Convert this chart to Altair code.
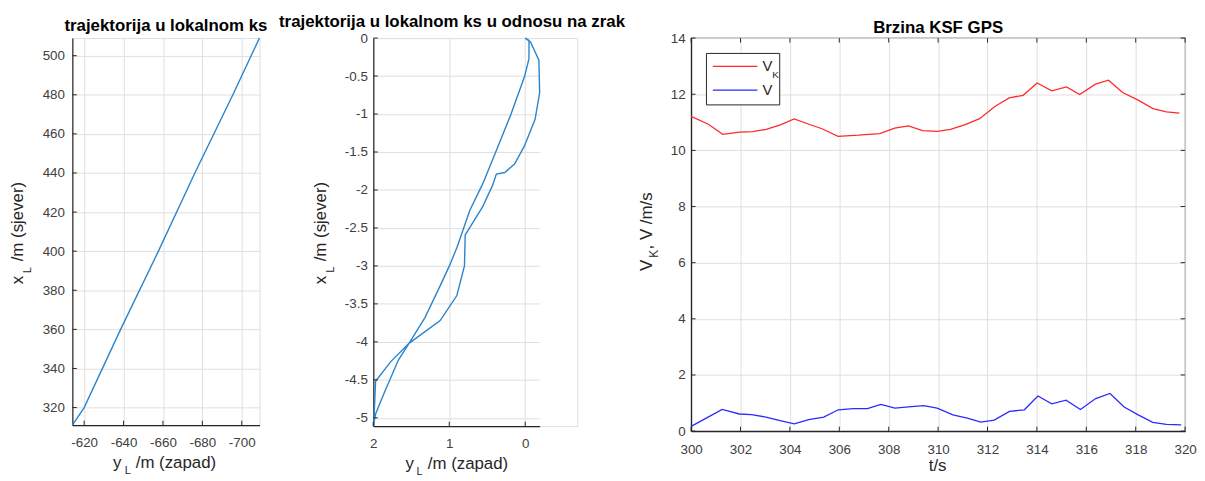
import altair as alt
import pandas as pd

# ---------------- data ----------------
# Panel 1: trajectory in local frame
p1_yl = [-614, -620, -638.5, -657.7, -676.2, -695.5, -709]
p1_xl = [311, 320, 360, 400, 440, 480, 509]
p1_xticks = [-620, -640, -660, -680, -700]
p1_yticks = [320, 340, 360, 380, 400, 420, 440, 460, 480, 500]

# Panel 2: trajectory relative to air (closed path)
p2_yl = [0.0, -0.05, -0.05, 0.01, 0.19, 0.38, 0.56, 0.73, 0.90, 0.99, 1.10, 1.32, 1.53, 1.67, 1.86, 1.97, 2.0,
         1.99, 1.97, 1.77, 1.53, 1.12, 0.90, 0.80, 0.79, 0.75, 0.56, 0.43, 0.38, 0.27, 0.14, 0.01, -0.13, -0.19,
         -0.18, -0.07, 0.0]
p2_xl = [0.0, -0.03, -0.27, -0.51, -1.01, -1.48, -1.92, -2.27, -2.76, -2.98, -3.22, -3.68, -4.02, -4.24, -4.68,
         -4.95, -5.11, -4.98, -4.52, -4.26, -4.02, -3.72, -3.39, -3.0, -2.59, -2.53, -2.22, -1.94, -1.79, -1.77,
         -1.66, -1.42, -1.07, -0.72, -0.29, -0.05, 0.0]
p2_xticks = [2, 1, 0]
p2_yticks = [0, -0.5, -1, -1.5, -2, -2.5, -3, -3.5, -4, -4.5, -5]

# Panel 3: speeds
t_vk = [300.0, 300.7, 301.28, 301.97, 302.5, 303.04, 303.64, 304.17, 304.77, 305.3, 305.95, 306.77, 307.64,
        308.24, 308.8, 309.37, 309.97, 310.5, 311.1, 311.68, 312.31, 312.88, 313.44, 314.01, 314.6, 315.2,
        315.73, 316.37, 316.9, 317.47, 318.1, 318.7, 319.24, 319.77]
v_vk = [11.21, 10.93, 10.57, 10.65, 10.67, 10.75, 10.92, 11.12, 10.93, 10.77, 10.5, 10.54, 10.6, 10.79, 10.87,
        10.7, 10.68, 10.75, 10.92, 11.13, 11.57, 11.87, 11.96, 12.4, 12.12, 12.26, 11.99, 12.36, 12.5, 12.06,
        11.79, 11.49, 11.37, 11.33]
t_v = [300.0, 300.65, 301.26, 301.95, 302.45, 303.03, 303.6, 304.18, 304.76, 305.37, 305.96, 306.57, 307.14,
       307.68, 308.25, 308.8, 309.42, 309.96, 310.6, 311.18, 311.73, 312.27, 312.89, 313.49, 314.04, 314.6,
       315.18, 315.76, 316.38, 316.96, 317.53, 318.1, 318.69, 319.24, 319.84]
v_v = [0.17, 0.48, 0.77, 0.61, 0.59, 0.50, 0.37, 0.26, 0.41, 0.50, 0.76, 0.80, 0.80, 0.95, 0.82, 0.86, 0.91,
       0.82, 0.58, 0.46, 0.32, 0.39, 0.70, 0.76, 1.25, 0.97, 1.10, 0.77, 1.16, 1.34, 0.86, 0.58, 0.31, 0.24, 0.22]
p3_xticks = [300, 302, 304, 306, 308, 310, 312, 314, 316, 318, 320]
p3_yticks = [0, 2, 4, 6, 8, 10, 12, 14]
series_names = ["VK", "V"]
legend_subscript = ["K"]

# ---------------- style ----------------
FONT = "Liberation Sans"
AX = "#262626"
GRID = "#dfdfdf"
LBL = "#404040"
LINE_BLUE = "#2a84cc"
RED = "#ff2b2b"
BLUE = "#2b2bff"
LABEL_EXPR = "replace(format(datum.value, '~g'), '\u2212', '-')"
TICK_LABEL_SIZE = 13.5
AXIS_TITLE_SIZE = 17
SUB_SIZE = 11
TICK_LEN = 4.5

one = pd.DataFrame({"k": [0]})


def main_axis(values, orient, pad):
    return alt.Axis(values=values, orient=orient, grid=True, gridColor=GRID, gridWidth=1, ticks=False,
                    domain=True, domainColor=AX, domainWidth=1.2, labelExpr=LABEL_EXPR, labelFont=FONT,
                    labelFontSize=TICK_LABEL_SIZE, labelColor=LBL, labelPadding=pad, title=None,
                    labelFlush=False, labelOverlap=False)


def xtick_marks(field, values, scale, axis, y0, y1):
    df = pd.DataFrame({field: values})
    return alt.Chart(df).mark_rule(color=AX, strokeWidth=1).encode(
        x=alt.X(f"{field}:Q", scale=scale, axis=axis), y=alt.value(y0), y2=alt.value(y1))


def ytick_marks(field, values, scale, axis, x0, x1):
    df = pd.DataFrame({field: values})
    return alt.Chart(df).mark_rule(color=AX, strokeWidth=1).encode(
        y=alt.Y(f"{field}:Q", scale=scale, axis=axis), x=alt.value(x0), x2=alt.value(x1))


def txt(text, x, y, size=AXIS_TITLE_SIZE, angle=0, align="left"):
    return alt.Chart(one).mark_text(text=text, angle=angle, align=align, baseline="alphabetic",
                                    font=FONT, fontSize=size, color=AX).encode(
        x=alt.value(x), y=alt.value(y))


def title(text, dx=0, offset=5):
    return alt.TitleParams(text=text, font=FONT, fontSize=17, fontWeight="bold", color="#000000",
                           anchor="middle", frame="group", offset=offset, baseline="alphabetic", dx=dx)


# ---------------- panel 1 ----------------
W1, H1 = 189, 391
df1 = pd.DataFrame({"yl": p1_yl, "xl": p1_xl, "i": list(range(len(p1_yl)))})
sx1 = alt.Scale(domain=[-709, -614], reverse=True, nice=False, zero=False)
sy1 = alt.Scale(domain=[311, 509], nice=False, zero=False)
ax1x = main_axis(p1_xticks, "bottom", 11)
ax1y = main_axis(p1_yticks, "left", 8)
m1 = alt.Chart(df1).mark_line(color=LINE_BLUE, strokeWidth=1.4).encode(
    x=alt.X("yl:Q", scale=sx1, axis=ax1x), y=alt.Y("xl:Q", scale=sy1, axis=ax1y), order="i:Q")
k1 = [xtick_marks("yl", p1_xticks, sx1, ax1x, H1, H1 - TICK_LEN),
      ytick_marks("xl", p1_yticks, sy1, ax1y, 0, TICK_LEN)]
t1 = [
    txt("x", -49.7, 248.7, angle=270), txt("L", -42, 237.5, size=SUB_SIZE, angle=270),
    txt("/m (sjever)", -49.7, 225.5, angle=270),
    txt("y", 41, 434), txt("L", 53, 440, size=SUB_SIZE), txt("/m (zapad)", 64, 434),
]
panel1 = alt.layer(m1, *k1, *t1).properties(
    width=W1, height=H1, title=title("trajektorija u lokalnom ks", offset=-13))

# ---------------- panel 2 ----------------
W2, H2, R2 = 206, 392, 168
df2 = pd.DataFrame({"yl": p2_yl, "xl": p2_xl, "i": list(range(len(p2_yl)))})
sx2 = alt.Scale(domain=[-0.19, 2.0], reverse=True, nice=False, zero=False, range=[0, R2])
sy2 = alt.Scale(domain=[-5.11, 0], nice=False, zero=False)
ax2x = main_axis(p2_xticks, "bottom", 11)
ax2y = main_axis(p2_yticks, "left", 6)
m2 = alt.Chart(df2).mark_line(color=LINE_BLUE, strokeWidth=1.4).encode(
    x=alt.X("yl:Q", scale=sx2, axis=ax2x), y=alt.Y("xl:Q", scale=sy2, axis=ax2y), order="i:Q")
k2 = [xtick_marks("yl", p2_xticks, sx2, ax2x, H2, H2 - TICK_LEN),
      ytick_marks("xl", p2_yticks, sy2, ax2y, 0, TICK_LEN)]
t2 = [
    txt("x", -47.6, 248.7, angle=270), txt("L", -40, 237, size=SUB_SIZE, angle=270),
    txt("/m (sjever)", -47.6, 225.5, angle=270),
    txt("y", 32.4, 435), txt("L", 43.5, 441, size=SUB_SIZE), txt("/m (zapad)", 55, 435),
]
panel2 = alt.layer(m2, *k2, *t2).properties(
    width=W2, height=H2, title=title("trajektorija u lokalnom ks u odnosu na zrak", dx=-23.5, offset=-13))

# ---------------- panel 3 ----------------
W3, H3 = 499, 397
df3 = pd.concat([
    pd.DataFrame({"t": t_vk, "v": v_vk, "s": series_names[0]}),
    pd.DataFrame({"t": t_v, "v": v_v, "s": series_names[1]}),
], ignore_index=True)
sx3 = alt.Scale(domain=[300, 320], nice=False, zero=False)
sy3 = alt.Scale(domain=[0, 14], nice=False, zero=False)
ax3x = main_axis(p3_xticks, "bottom", 12)
ax3y = main_axis(p3_yticks, "left", 6)
leg = alt.Legend(orient="none", legendX=15, legendY=15, title=None, symbolType="stroke", symbolSize=2025,
                 symbolStrokeWidth=1.3, labelFont=FONT, labelFontSize=15, labelColor=AX, labelOffset=4,
                 padding=6, rowPadding=8, clipHeight=15, strokeColor=AX, fillColor="white", zindex=1,
                 labelExpr="datum.label == 'VK' ? 'V\u00a0\u00a0' : datum.label")
m3 = alt.Chart(df3).mark_line(strokeWidth=1.3).encode(
    x=alt.X("t:Q", scale=sx3, axis=ax3x),
    y=alt.Y("v:Q", scale=sy3, axis=ax3y),
    color=alt.Color("s:N", scale=alt.Scale(domain=series_names, range=[RED, BLUE]), legend=leg))
# subscript "K" of the legend label, drawn as a second (symbol-less) legend on top of the first
sub_leg = alt.Legend(orient="none", legendX=72, legendY=32.5, title=None, symbolOpacity=0, symbolSize=1,
                     labelFont=FONT, labelFontSize=10, labelColor=AX, labelOffset=0, padding=0,
                     clipHeight=10, zindex=2)
ks = alt.Chart(pd.DataFrame({"sub": legend_subscript, "t": [310.0], "v": [7.0]})).mark_point(
    opacity=0, size=0).encode(
    x=alt.X("t:Q", scale=sx3, axis=ax3x), y=alt.Y("v:Q", scale=sy3, axis=ax3y),
    shape=alt.Shape("sub:N", legend=sub_leg))
k3 = [xtick_marks("t", p3_xticks, sx3, ax3x, H3, H3 - TICK_LEN),
      xtick_marks("t", p3_xticks, sx3, ax3x, 0, TICK_LEN),
      ytick_marks("v", p3_yticks, sy3, ax3y, 0, TICK_LEN),
      ytick_marks("v", p3_yticks, sy3, ax3y, W3, W3 - TICK_LEN)]
t3 = [
    txt("V", -39, 235.3, angle=270), txt("K", -33, 222, size=12, angle=270),
    txt(", V /m/s", -39, 213.5, angle=270),
    txt("t/s", 249, 437, align="center"),
]
panel3 = alt.layer(m3, ks, *k3, *t3).properties(
    width=W3, height=H3, title=title("Brzina KSF GPS", offset=-19),
    view=alt.ViewBackground(stroke=AX, strokeWidth=1.2))

chart = alt.hconcat(panel1, panel2, panel3, spacing=115, bounds="flush").resolve_legend(
    color="independent", shape="independent").properties(
    padding={"left": 0, "top": 2, "right": 0, "bottom": 0}
).configure_view(stroke=None).configure(font=FONT)

chart.save("out.html", embed_options={"renderer": "svg", "actions": False})
